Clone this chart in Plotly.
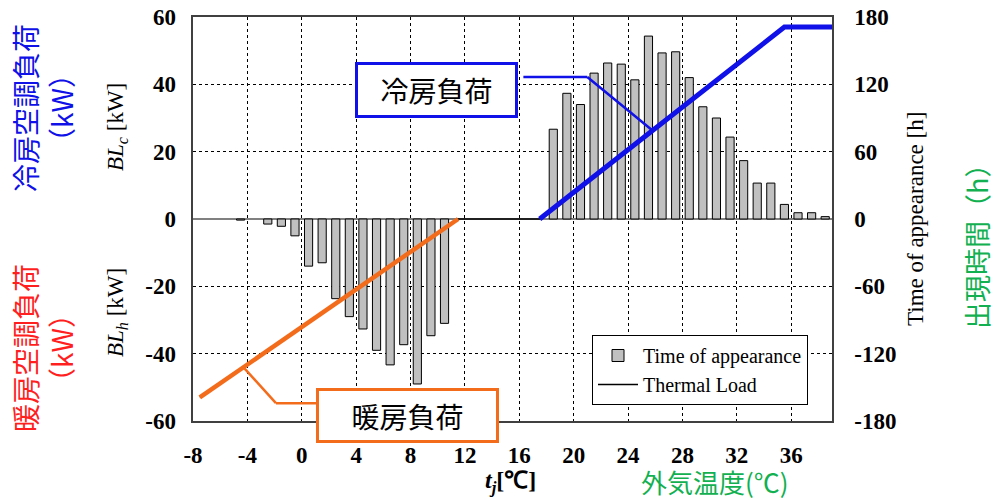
import plotly.graph_objects as go

# ---- data ----
heat_temp = [-4.5, -2.5, -1.5, -0.5, 0.5, 1.5, 2.5, 3.5, 4.5, 5.5, 6.5, 7.5, 8.5, 9.5, 10.5]
heat_hours = [-1, -4.5, -6.5, -15, -42, -39, -71, -87, -98, -117, -130, -112, -147, -104, -93]

cool_temp = [18.5, 19.5, 20.5, 21.5, 22.5, 23.5, 24.5, 25.5, 26.5, 27.5, 28.5,
             29.5, 30.5, 31.5, 32.5, 33.5, 34.5, 35.5, 36.5, 37.5, 38.5]
cool_hours = [80, 112, 102, 130, 139, 138, 124, 163, 148, 149, 126,
              100, 90, 73, 52, 32, 32, 13, 5.6, 5.6, 2.1]

load_temp = [-7.5, 11.5, 17.5, 35.5, 39]
load_kw = [-53, 0, 0, 57, 57]

x_ticks = [-8, -4, 0, 4, 8, 12, 16, 20, 24, 28, 32, 36]
x_labels = ["-8", "-4", "0", "4", "8", "12", "16", "20", "24", "28", "32", "36"]
kw_ticks = [-60, -40, -20, 0, 20, 40, 60]
kw_labels = ["-60", "-40", "-20", "0", "20", "40", "60"]
h_ticks = [-180, -120, -60, 0, 60, 120, 180]
h_labels = ["-180", "-120", "-60", "0", "60", "120", "180"]

# ---- geometry helpers (pixel -> paper) ----
L, R, T, B = 193, 832, 17, 421
W, H = 995, 500


def px(p):
    return (p - L) / (R - L)


def py(p):
    return (B - p) / (B - T)


SERIF = "Liberation Serif"
CJK = "Noto Sans CJK JP"
BLUE = "#1010e8"
ORANGE = "#f36c1c"
RED = "#ff1f1f"
GREEN = "#12b050"

fig = go.Figure()

# bars on the primary (hours, right side) axis, lines on the overlaying kW axis
bar_style = dict(marker=dict(color="#c0c0c0", line=dict(color="#000000", width=1)),
                 width=0.6, yaxis="y")
fig.add_trace(go.Bar(x=heat_temp, y=heat_hours, name="Time of appearance",
                     showlegend=True, legendrank=1, **bar_style))
fig.add_trace(go.Bar(x=cool_temp, y=cool_hours, name="Time of appearance",
                     showlegend=False, **bar_style))

fig.add_trace(go.Scatter(x=load_temp, y=load_kw, mode="lines", name="Thermal Load",
                         yaxis="y2", line=dict(color="#000000", width=1.5), legendrank=2))
fig.add_trace(go.Scatter(x=load_temp[0:2], y=load_kw[0:2], mode="lines", showlegend=False,
                         yaxis="y2", line=dict(color=ORANGE, width=4.5)))
fig.add_trace(go.Scatter(x=load_temp[2:], y=load_kw[2:], mode="lines", showlegend=False,
                         yaxis="y2", line=dict(color=BLUE, width=5)))

grid = dict(showgrid=True, gridcolor="#000000", gridwidth=1, griddash="3px,3px")
tickf = dict(family=SERIF, size=23, color="#000000", weight="bold")

fig.update_layout(
    width=W, height=H,
    margin=dict(l=L, r=W - R, t=T, b=H - B),
    paper_bgcolor="white", plot_bgcolor="white",
    xaxis=dict(range=[-8, 39], tickvals=x_ticks, ticktext=x_labels, ticks="",
               tickfont=tickf, ticklabelstandoff=13, showline=True, mirror=True,
               linecolor="#404040", linewidth=1.5, zeroline=False, automargin=False,
               **grid),
    yaxis=dict(range=[-180, 180], tickvals=h_ticks, ticktext=h_labels, ticks="",
               tickfont=tickf, ticklabelstandoff=16, side="right",
               showline=True, mirror=True, linecolor="#404040", linewidth=1.5,
               zeroline=True, zerolinecolor="#808080", zerolinewidth=2,
               automargin=False, **grid),
    yaxis2=dict(range=[-60, 60], tickvals=kw_ticks, ticktext=kw_labels, ticks="",
                tickfont=tickf, ticklabelstandoff=16, overlaying="y", side="left",
                showgrid=False, zeroline=False, showline=False, automargin=False),
    legend=dict(x=px(592), y=py(335), xanchor="left", yanchor="top",
                bgcolor="white", bordercolor="#000000", borderwidth=1,
                font=dict(family=SERIF, size=20, color="#000000"),
                tracegroupgap=0, itemwidth=40),
    showlegend=True,
)

# callout lines
shapes = [
    dict(type="line", xref="x", yref="y2", x0=16.3, y0=42.2, x1=21.0, y1=42.2,
         line=dict(color=BLUE, width=2.5)),
    dict(type="line", xref="x", yref="y2", x0=21.0, y0=42.2, x1=25.8, y1=26.3,
         line=dict(color=BLUE, width=2.5)),
    dict(type="line", xref="x", yref="y2", x0=1.1, y0=-54.7, x1=-1.9, y1=-54.7,
         line=dict(color=ORANGE, width=2.5)),
    dict(type="line", xref="x", yref="y2", x0=-1.9, y0=-54.7, x1=-4.3, y1=-44.0,
         line=dict(color=ORANGE, width=2.5)),
]
fig.update_layout(shapes=shapes)

ann = []


def add(text, x, y, size, color="#000000", family=SERIF, angle=0, **kw):
    ann.append(dict(text=text, x=px(x), y=py(y), xref="paper", yref="paper",
                    showarrow=False, textangle=angle, xanchor="center", yanchor="middle",
                    font=dict(family=family, size=size, color=color), **kw))


# boxes
add("冷房負荷", 436.5, 90, 28, family=CJK, bgcolor="white", bordercolor=BLUE,
    borderwidth=3, borderpad=2, width=153, height=46)
add("暖房負荷", 407.5, 415.5, 28, family=CJK, bgcolor="white", bordercolor=ORANGE,
    borderwidth=3, borderpad=2, width=173, height=45)

# axis titles
add("冷房空調負荷<br>（kW）", 43, 108, 28, color=BLUE, family=CJK, angle=-90)
add("暖房空調負荷<br>（kW）", 43, 348, 28, color=RED, family=CJK, angle=-90)
add("<i>BL</i><sub><i>c</i></sub> [kW]", 117, 127, 23, angle=-90)
add("<i>BL</i><sub><i>h</i></sub> [kW]", 117, 313, 23, angle=-90)
add("Time of appearance [h]", 915, 219, 23, angle=-90)
add("出現時間（h）", 976, 240, 27, color=GREEN, family=CJK, angle=-90)
add("<b><i>t</i></b><sub><b><i>j</i></b></sub><b>[℃]</b>", 510, 482, 24)
add("外気温度(℃)", 715, 482, 26, color=GREEN, family=CJK)

fig.update_layout(annotations=ann)

fig.write_html("out.html", config={"displayModeBar": False},
               post_script="document.body.style.margin='0px';")
